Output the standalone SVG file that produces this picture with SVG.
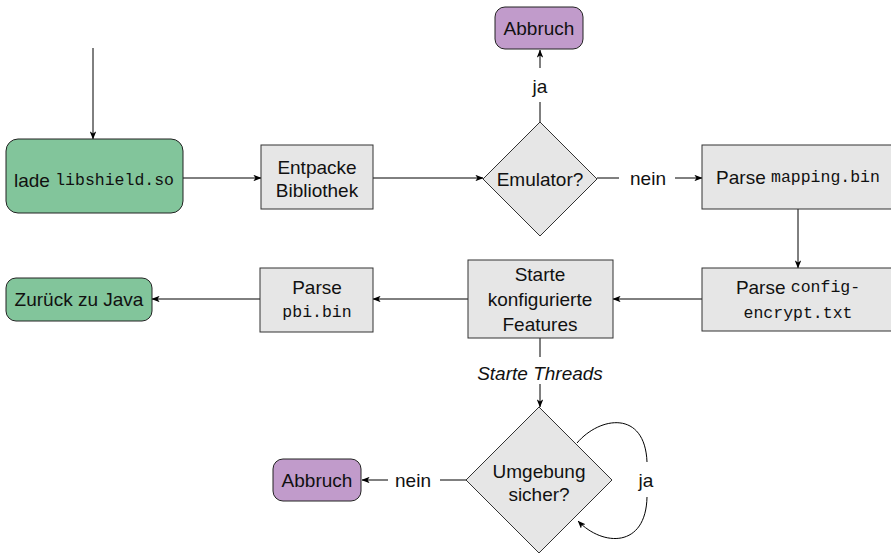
<svg xmlns="http://www.w3.org/2000/svg" width="891" height="553" viewBox="0 0 891 553">
  <defs>
    <marker id="arr" viewBox="0 0 10 8" refX="9.5" refY="4" markerWidth="8" markerHeight="6.4" markerUnits="userSpaceOnUse" orient="auto">
      <path d="M0,0 L10,4 L0,8 L2.5,4 Z" fill="#000"/>
    </marker>
  </defs>
  <style>
    .start { fill: #82c59b; stroke: #222; stroke-width: 1; }
    .stop { fill: #c19bcb; stroke: #222; stroke-width: 1; }
    .proc { fill: #e6e6e6; stroke: #333; stroke-width: 1; }
    .edge { fill: none; stroke: #000; stroke-width: 1; }
    .arrow { marker-end: url(#arr); }
    text { font-family: "Liberation Sans", Arial, sans-serif; font-size: 19px; fill: #111; text-anchor: middle; dominant-baseline: central; }
    .tt { font-family: "Liberation Mono", "DejaVu Sans Mono", monospace; font-size: 16.5px; }
    .rm { font-family: "Liberation Sans", Arial, sans-serif; font-size: 19px; }
    .it { font-style: italic; }
  </style>
  <rect width="891" height="553" fill="#fff"/>

  <g id="connectors">
    <line class="edge arrow" x1="93" y1="48" x2="93" y2="139"/>
    <line class="edge arrow" x1="183" y1="178" x2="261" y2="178"/>
    <line class="edge arrow" x1="373" y1="178" x2="483" y2="178"/>
    <line class="edge" x1="540" y1="122" x2="540" y2="102"/>
    <line class="edge arrow" x1="540" y1="68" x2="540" y2="50"/>
    <text x="540" y="86">ja</text>
    <line class="edge" x1="597" y1="178" x2="619" y2="178"/>
    <text x="648" y="178">nein</text>
    <line class="edge arrow" x1="675" y1="178" x2="702" y2="178"/>
    <line class="edge arrow" x1="798" y1="209" x2="798" y2="268"/>
    <line class="edge arrow" x1="702" y1="299" x2="613" y2="299"/>
    <line class="edge arrow" x1="468" y1="299" x2="373" y2="299"/>
    <line class="edge arrow" x1="260" y1="299" x2="152" y2="299"/>
    <line class="edge" x1="540" y1="338" x2="540" y2="357"/>
    <text class="it" x="540" y="373">Starte Threads</text>
    <line class="edge arrow" x1="540" y1="384" x2="540" y2="407"/>
    <line class="edge" x1="466" y1="480" x2="440" y2="480"/>
    <text x="413" y="480">nein</text>
    <line class="edge arrow" x1="388" y1="480" x2="362" y2="480"/>
    <path class="edge" d="M577,443 C600,416 645,410 647,462"/>
    <path class="edge arrow" d="M647,497 C646,548 603,547 578,521"/>
    <text x="646" y="480">ja</text>
  </g>

  <g id="load">
    <rect class="start" x="6" y="139" width="177" height="74" rx="12"/>
    <text x="94" y="180"><tspan>lade </tspan><tspan class="tt">libshield.so</tspan></text>
  </g>

  <g id="unpack">
    <rect class="proc" x="261" y="145" width="112" height="64"/>
    <text x="317" y="167">Entpacke</text>
    <text x="317" y="190">Bibliothek</text>
  </g>

  <g id="emulator">
    <polygon class="proc" points="540,122 597,179 540,236 483,179"/>
    <text x="540" y="179">Emulator?</text>
  </g>

  <g id="abort-top">
    <rect class="stop" x="495" y="7" width="88" height="42" rx="10"/>
    <text x="539" y="28">Abbruch</text>
  </g>

  <g id="parse-mapping">
    <rect class="proc" x="702" y="145" width="194" height="64"/>
    <text x="798" y="177"><tspan>Parse </tspan><tspan class="tt">mapping.bin</tspan></text>
  </g>

  <g id="parse-config">
    <rect class="proc" x="702" y="268" width="194" height="63"/>
    <text class="tt" x="798" y="287"><tspan class="rm">Parse </tspan>config-</text>
    <text class="tt" x="798" y="313">encrypt.txt</text>
  </g>

  <g id="start-features">
    <rect class="proc" x="468" y="260" width="145" height="78"/>
    <text x="540" y="274">Starte</text>
    <text x="540" y="299">konfigurierte</text>
    <text x="540" y="324">Features</text>
  </g>

  <g id="parse-pbi">
    <rect class="proc" x="260" y="268" width="113" height="64"/>
    <text x="317" y="287">Parse</text>
    <text class="tt" x="317" y="312">pbi.bin</text>
  </g>

  <g id="back-to-java">
    <rect class="start" x="6" y="278" width="146" height="43" rx="10"/>
    <text x="79" y="299">Zurück zu Java</text>
  </g>

  <g id="env-safe">
    <polygon class="proc" points="539,407 612,480 539,553 466,480"/>
    <text x="539" y="471">Umgebung</text>
    <text x="539" y="494">sicher?</text>
  </g>

  <g id="abort-bottom">
    <rect class="stop" x="273" y="459" width="88" height="42" rx="10"/>
    <text x="317" y="480">Abbruch</text>
  </g>
</svg>
